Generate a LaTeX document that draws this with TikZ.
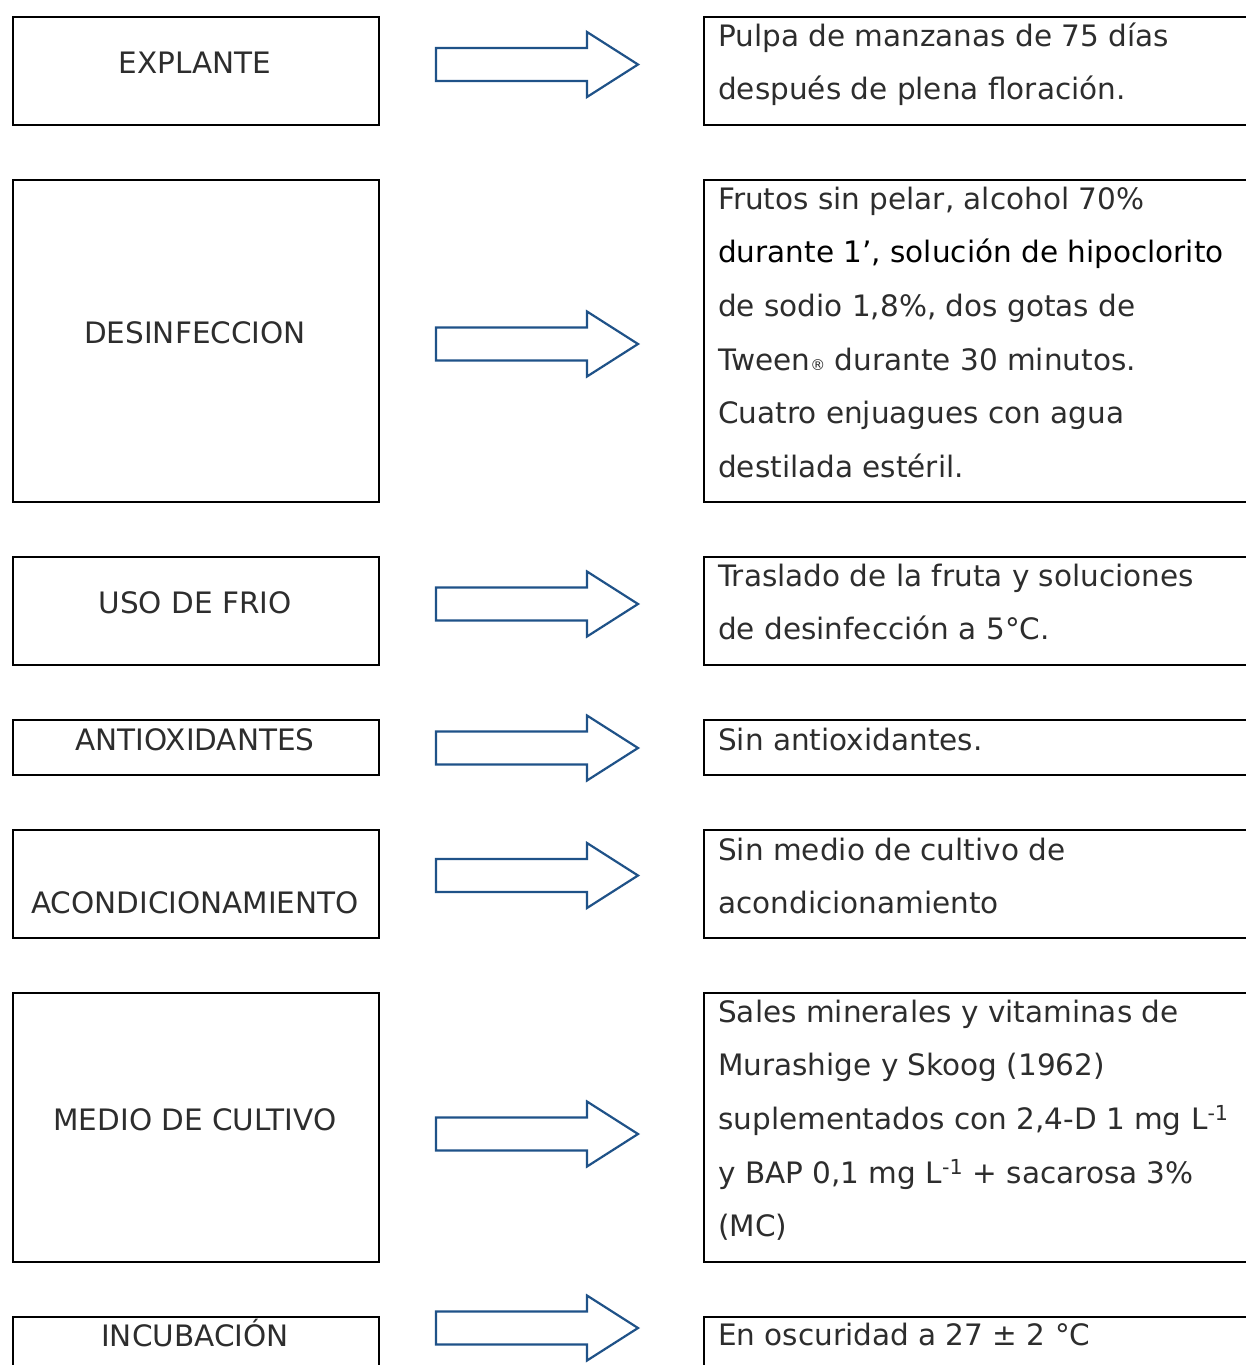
\documentclass[tikz,border=0pt]{standalone}
\usepackage{fontspec}
\setmainfont{DejaVu Sans}
\definecolor{arrowblue}{RGB}{31,82,136}
\definecolor{txt}{RGB}{45,45,45}
\begin{document}
\begin{tikzpicture}[x=1pt,y=-1pt,
  box/.style={draw=black,line width=2.4pt,anchor=north west,inner sep=0pt},
  lab/.style={font=\fontsize{29.5}{30}\selectfont,text=txt,inner sep=0pt,anchor=base},
  desc/.style={font=\fontsize{29.5}{53.7}\selectfont,text=txt,inner sep=0pt,anchor=base west,align=left},
  barrow/.pic={\draw[arrowblue,line width=2.2pt,line join=miter]
     (0,-16.5) -- (151,-16.5) -- (151,-32.5) -- (202,0) -- (151,32.5) -- (151,16.5) -- (0,16.5) -- cycle;}]
\useasboundingbox (0,0) rectangle (1246,1365);
\clip (0,0) rectangle (1246,1365);
% left boxes
\node[box,minimum width=366pt,minimum height=108pt] (L1) at (12,16) {};
\node[box,minimum width=366pt,minimum height=322pt] (L2) at (12,179) {};
\node[box,minimum width=366pt,minimum height=108pt] (L3) at (12,556) {};
\node[box,minimum width=366pt,minimum height=55pt] (L4) at (12,719) {};
\node[box,minimum width=366pt,minimum height=108pt] (L5) at (12,829) {};
\node[box,minimum width=366pt,minimum height=269pt] (L6) at (12,992) {};
\node[box,minimum width=366pt,minimum height=80pt] (L7) at (12,1316) {};
% right boxes
\node[box,minimum width=580pt,minimum height=108pt] (R1) at (703,16) {};
\node[box,minimum width=580pt,minimum height=322pt] (R2) at (703,179) {};
\node[box,minimum width=580pt,minimum height=108pt] (R3) at (703,556) {};
\node[box,minimum width=580pt,minimum height=55pt] (R4) at (703,719) {};
\node[box,minimum width=580pt,minimum height=108pt] (R5) at (703,829) {};
\node[box,minimum width=580pt,minimum height=269pt] (R6) at (703,992) {};
\node[box,minimum width=580pt,minimum height=80pt] (R7) at (703,1316) {};
% left labels
\node[lab] (t1) at (195,73) {EXPLANTE};
\node[lab] (t2) at (195,343) {DESINFECCION};
\node[lab] (t3) at (195,613) {USO DE FRIO};
\node[lab] (t4) at (195,750) {ANTIOXIDANTES};
\node[lab] (t5) at (195,913) {ACONDICIONAMIENTO};
\node[lab] (t6) at (195,1130) {MEDIO DE CULTIVO};
\node[lab] (t7) at (195,1346) {INCUBACIÓN};
% arrows
\pic at (436,64.5) {barrow};
\pic at (436,344) {barrow};
\pic at (436,604) {barrow};
\pic at (436,748) {barrow};
\pic at (436,875.5) {barrow};
\pic at (436,1134) {barrow};
\pic at (436,1328) {barrow};
% right texts (anchored at the baseline of their last line)
\node[desc] (d1) at (718,99.7) {Pulpa de manzanas de 75 días\\después de plena floración.};
\node[desc] (d2) at (718,477.5) {Frutos sin pelar, alcohol 70\%\\{\color{black}durante 1’, solución de hipoclorito}\\de sodio 1,8\%, dos gotas de\\Tween{\fontsize{15}{15}\selectfont ®} durante 30 minutos.\\Cuatro enjuagues con agua\\destilada estéril.};
\node[desc] (d3) at (718,639.7) {Traslado de la fruta y soluciones\\de desinfección a 5°C.};
\node[desc] (d4) at (718,750) {Sin antioxidantes.};
\node[desc] (d5) at (718,913.7) {Sin medio de cultivo de\\acondicionamiento};
\node[desc] (d6) at (718,1236.8) {Sales minerales y vitaminas de\\Murashige y Skoog (1962)\\suplementados con 2,4-D 1 mg L\textsuperscript{-1}\\y BAP 0,1 mg L\textsuperscript{-1} + sacarosa 3\%\\(MC)};
\node[desc] (d7) at (718,1345) {En oscuridad a 27 ± 2 °C};
\end{tikzpicture}
\end{document}
